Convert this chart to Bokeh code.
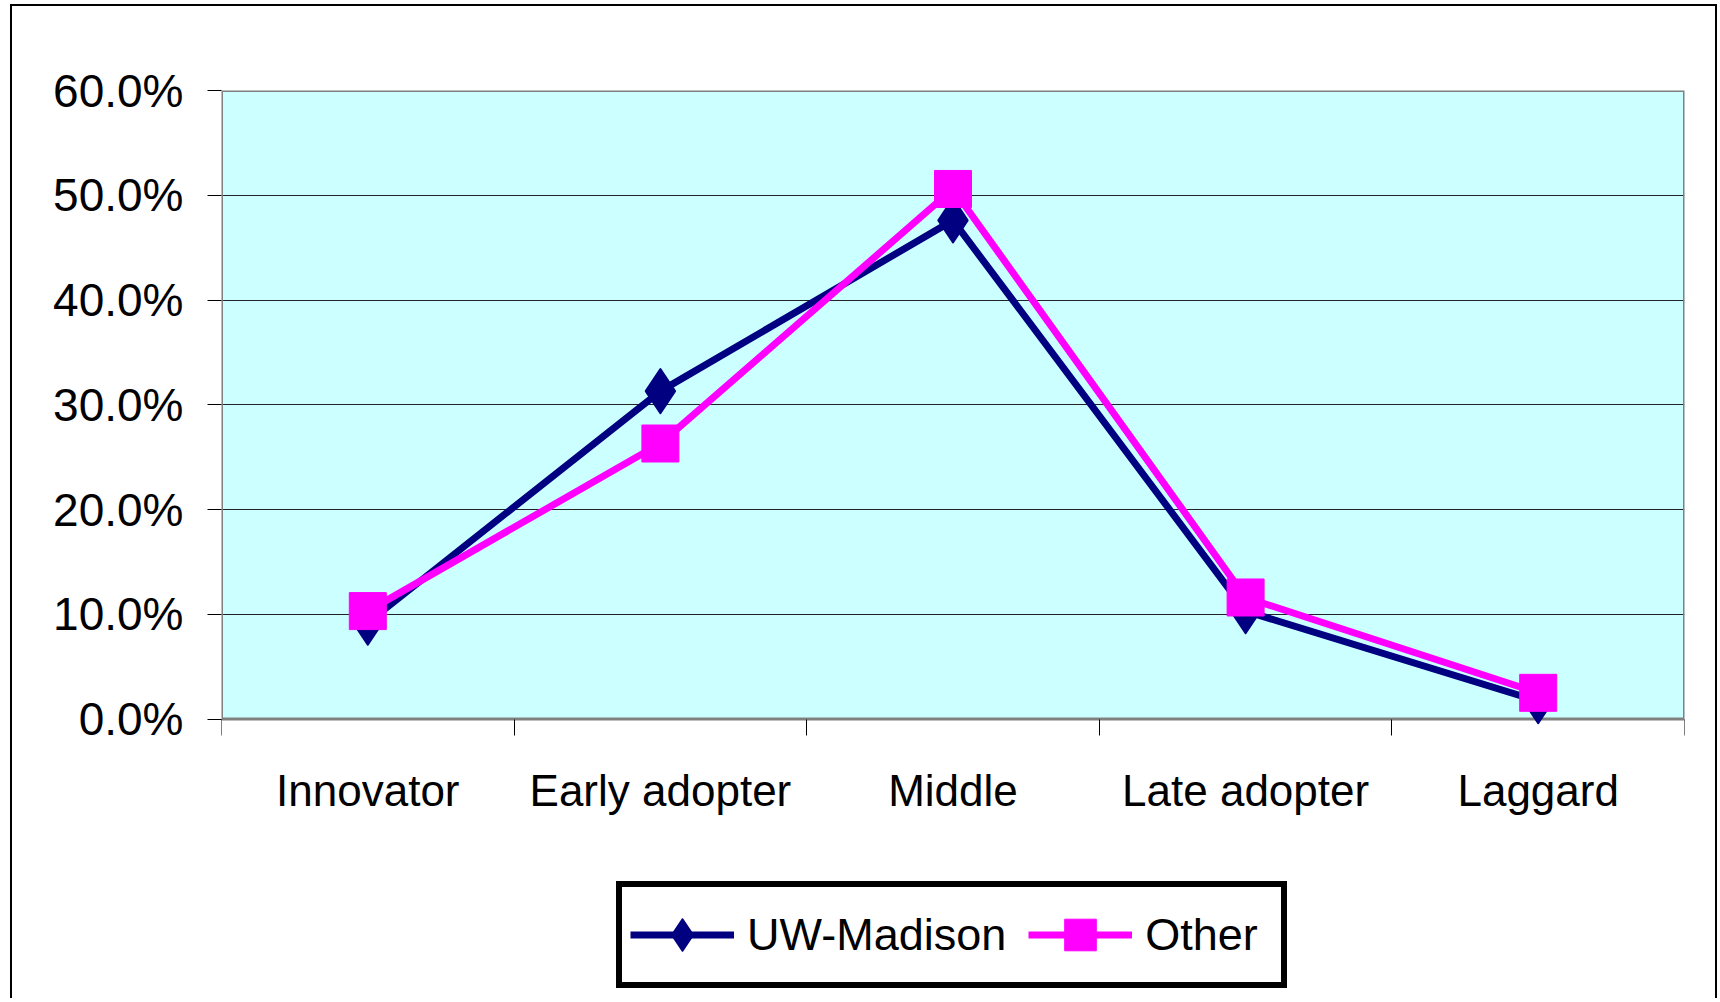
from bokeh.plotting import figure
from bokeh.models import (Range1d, FixedTicker, PrintfTickFormatter, Legend, LegendItem,
                          BoxAnnotation)
from bokeh.embed import file_html
from bokeh.resources import INLINE

categories = ["Innovator", "Early adopter", "Middle", "Late adopter", "Laggard"]
uw_madison = [9.2, 31.3, 47.6, 10.3, 1.7]
other = [10.3, 26.3, 50.6, 11.6, 2.5]
y_ticks = [0, 10, 20, 30, 40, 50, 60]
y_max = 60

FONT = "Liberation Sans"

xs = [i + 0.5 for i in range(len(categories))]
n = len(categories)

# frame extends below the plotting area so the legend can sit inside it
y_start = -y_max * 277.5 / 628.5

p = figure(width=1707, height=994, output_backend="svg", toolbar_location=None,
           x_range=Range1d(0, n), y_range=Range1d(y_start, y_max),
           min_border_left=209, min_border_right=35, min_border_top=84, min_border_bottom=4,
           background_fill_color="white", border_fill_color="white",
           styles={"margin-left": "10px", "margin-top": "4px",
                   "border-left": "2px solid black", "border-top": "2px solid black",
                   "border-right": "2px solid black"})

p.outline_line_color = None

# plot area background and its grey border
p.add_layout(BoxAnnotation(left=0, right=n, bottom=0, top=y_max, fill_color="#CCFFFF",
                           fill_alpha=1, line_color=None, level="image"))
p.add_layout(BoxAnnotation(left=0, right=n, bottom=0, top=y_max, fill_color=None,
                           line_color="#808080", line_alpha=1, line_width=3, level="underlay"))

# x axis at y = 0: labels at category centres, ticks at boundaries (minor ticks)
xa = p.xaxis[0]
xa.fixed_location = 0
xa.ticker = FixedTicker(ticks=xs, minor_ticks=list(range(n + 1)))
xa.major_label_overrides = {x: c for x, c in zip(xs, categories)}
xa.major_tick_line_color = None
xa.major_tick_out = 16
xa.major_tick_in = 0
xa.minor_tick_line_color = "black"
xa.minor_tick_out = 16
xa.minor_tick_in = 0
xa.axis_line_color = None
xa.major_label_text_font = FONT
xa.major_label_text_font_size = "44px"
xa.major_label_text_color = "black"
xa.major_label_standoff = 31

ya = p.yaxis[0]
ya.ticker = FixedTicker(ticks=y_ticks)
ya.formatter = PrintfTickFormatter(format="%.1f%%")
ya.major_tick_out = 14
ya.major_tick_in = 0
ya.major_tick_line_color = "black"
ya.minor_tick_line_color = None
ya.axis_line_color = None
ya.major_label_text_font = FONT
ya.major_label_text_font_size = "46px"
ya.major_label_text_color = "black"
ya.major_label_standoff = 24

p.xgrid.visible = False
p.ygrid.ticker = FixedTicker(ticks=y_ticks)
p.ygrid.grid_line_color = "#222222"
p.ygrid.grid_line_width = 1

navy = "#000080"
magenta = "#FF00FF"

l1 = p.line(xs, uw_madison, line_color=navy, line_width=7)
m1 = p.scatter(xs, uw_madison, marker="diamond", size=44,
               fill_color=navy, line_color=navy, line_width=2, line_join="round")
l2 = p.line(xs, other, line_color=magenta, line_width=7)
m2 = p.scatter(xs, other, marker="square", size=37, fill_color=magenta, line_color=magenta)

legend = Legend(items=[LegendItem(label="UW-Madison", renderers=[l1, m1]),
                       LegendItem(label="Other", renderers=[l2, m2])],
                orientation="horizontal", location=(395, 8),
                label_text_font=FONT, label_text_font_size="45px", label_text_color="black",
                glyph_width=104, glyph_height=79, label_height=79, label_width=128,
                label_standoff=13, spacing=22, padding=8, margin=0,
                border_line_color="black", border_line_alpha=1, border_line_width=6,
                background_fill_color="white", background_fill_alpha=1)
p.add_layout(legend, "center")

open("out.html", "w").write(file_html(p, INLINE))
